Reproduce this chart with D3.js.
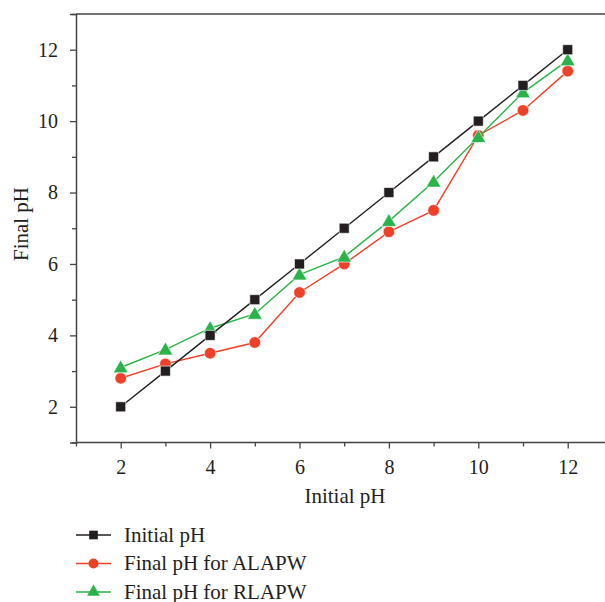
<!DOCTYPE html>
<html>
<head>
<meta charset="utf-8">
<script src="https://cdn.jsdelivr.net/npm/d3@7"></script>
<style>
  body { margin: 0; background: #fff; }
  svg { display: block; font-family: "Liberation Serif", "DejaVu Serif", serif; }
</style>
</head>
<body>
<svg id="chart" width="605" height="602"></svg>
<script>
// data
var initialPH = [2, 3, 4, 5, 6, 7, 8, 9, 10, 11, 12];
var finalInitial = [2, 3, 4, 5, 6, 7, 8, 9, 10, 11, 12];
var finalALAPW = [2.8, 3.2, 3.5, 3.8, 5.2, 6.0, 6.9, 7.5, 9.6, 10.3, 11.4];
var finalRLAPW = [3.1, 3.6, 4.2, 4.6, 5.7, 6.2, 7.2, 8.3, 9.55, 10.8, 11.7];
var seriesNames = ["Initial pH", "Final pH for ALAPW", "Final pH for RLAPW"];
var xTicks = [2, 4, 6, 8, 10, 12];
var yTicks = [2, 4, 6, 8, 10, 12];
var minorTicks = [1, 3, 5, 7, 9, 11, 13];

var svg = d3.select("#chart");
var plotLeft = 76, plotTop = 14, plotBottom = 442.5;
var x = d3.scaleLinear().domain([1, 13]).range([plotLeft, plotLeft + 12 * 44.7]);
var y = d3.scaleLinear().domain([1, 13]).range([plotBottom, plotTop]);

var axisColor = "#444";
var textColor = "#231f20";

// frame (right edge falls outside the picture)
svg.append("line").attr("x1", plotLeft).attr("x2", 605).attr("y1", plotTop).attr("y2", plotTop)
    .attr("stroke", axisColor).attr("stroke-width", 1.5);

var xAxis = svg.append("g").attr("transform", "translate(0," + plotBottom + ")")
    .call(d3.axisBottom(x).tickValues(xTicks).tickSize(6).tickPadding(11).tickFormat(d3.format("d")));
var xMinor = svg.append("g").attr("transform", "translate(0," + plotBottom + ")")
    .call(d3.axisBottom(x).tickValues(minorTicks).tickSize(4).tickFormat(""));
var yAxis = svg.append("g").attr("transform", "translate(" + plotLeft + ",0)")
    .call(d3.axisLeft(y).tickValues(yTicks).tickSize(6).tickPadding(12).tickFormat(d3.format("d")));
var yMinor = svg.append("g").attr("transform", "translate(" + plotLeft + ",0)")
    .call(d3.axisLeft(y).tickValues(minorTicks).tickSize(4).tickFormat(""));

[xAxis, xMinor, yAxis, yMinor].forEach(function(g) {
    g.attr("font-size", 20).attr("font-family", "Liberation Serif, DejaVu Serif, serif");
    g.select(".domain").attr("stroke", axisColor).attr("stroke-width", 1.5);
    g.selectAll(".tick line").attr("stroke", axisColor).attr("stroke-width", 1.3);
    g.selectAll(".tick text").attr("fill", textColor);
});
xMinor.select(".domain").remove();
yMinor.select(".domain").remove();
// the x axis runs past the right edge
xAxis.select(".domain").attr("d", "M" + plotLeft + ",0H605");

svg.append("text").attr("x", 345).attr("y", 503).attr("text-anchor", "middle")
    .attr("font-size", 21).attr("fill", textColor).text("Initial pH");
svg.append("text").attr("transform", "translate(28,224) rotate(-90)").attr("text-anchor", "middle")
    .attr("font-size", 21).attr("fill", textColor).text("Final pH");

var series = [
    { name: seriesNames[1], values: finalALAPW, color: "#ee4127", shape: d3.symbolCircle, size: 105 },
    { name: seriesNames[2], values: finalRLAPW, color: "#2bb34a", shape: d3.symbolTriangle, size: 95 },
    { name: seriesNames[0], values: finalInitial, color: "#231f20", shape: d3.symbolSquare, size: 100 }
];

var line = d3.line().x(function(d) { return x(d[0]); }).y(function(d) { return y(d[1]); });

series.forEach(function(s) {
    var pts = initialPH.map(function(v, i) { return [v, s.values[i]]; });
    svg.append("path").datum(pts).attr("d", line).attr("fill", "none")
        .attr("stroke", s.color).attr("stroke-width", 1.4);
    svg.selectAll(null).data(pts).enter().append("path")
        .attr("transform", function(d) {
            var dy = s.shape === d3.symbolTriangle ? 1 : 0;
            return "translate(" + x(d[0]) + "," + (y(d[1]) + dy) + ")";
        })
        .attr("d", d3.symbol().type(s.shape).size(s.size))
        .attr("fill", s.color).attr("stroke", "#fff").attr("stroke-width", 0.6);
});

// legend
var legendOrder = [series[2], series[0], series[1]];
var legendY = [535, 563.5, 592];
var legend = svg.append("g");
legendOrder.forEach(function(s, i) {
    var ly = legendY[i];
    legend.append("line").attr("x1", 76).attr("x2", 111).attr("y1", ly).attr("y2", ly)
        .attr("stroke", s.color).attr("stroke-width", 1.4);
    legend.append("path").attr("transform", "translate(93.5," + ly + ")")
        .attr("d", d3.symbol().type(s.shape).size(s.size * 0.75)).attr("fill", s.color);
    legend.append("text").attr("x", 124).attr("y", ly + 6.5)
        .attr("font-size", 21).attr("fill", textColor).text(s.name);
});
</script>
</body>
</html>
